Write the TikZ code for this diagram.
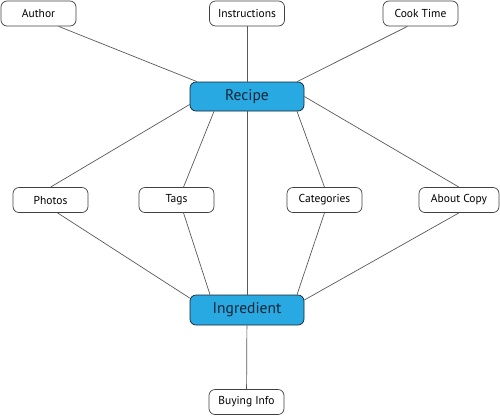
\documentclass[tikz,border=0pt]{standalone}
\usepackage{fontspec}
\setmainfont{PT Sans}
\definecolor{hubblue}{RGB}{41,169,225}
\definecolor{hubtext}{RGB}{22,36,52}
\begin{document}
\begin{tikzpicture}[x=1pt,y=-1pt,
        item/.style={draw=black!75,line width=0.7pt,rounded corners=6pt,inner sep=0pt,
            minimum width=75pt,minimum height=25pt,font=\fontsize{11.5}{13}\selectfont},
        hub/.style={draw=hubtext,fill=hubblue,line width=0.7pt,rounded corners=6pt,inner sep=0pt,
            minimum width=114pt,minimum height=29pt,text=hubtext,font=\fontsize{15.5}{18}\selectfont},
        link/.style={draw=black!65,line width=0.7pt}]
            \useasboundingbox (0,0) rectangle (500,416);
            \node[hub] (recipe) at (247,96.5) {Recipe};
            \node[hub,minimum height=30pt] (ingredient) at (247,310) {Ingredient};
            \node[item] (author) at (38.5,13.5) {Author};
            \node[item] (instructions) at (247,13.5) {Instructions};
            \node[item] (cooktime) at (420.5,13.5) {Cook Time};
            \node[item] (photos) at (50.5,200) {Photos};
            \node[item] (tags) at (176.5,200) {Tags};
            \node[item] (categories) at (324.5,200) {Categories};
            \node[item,minimum width=80pt] (aboutcopy) at (459,200) {About Copy};
            \node[item] (buyinginfo) at (246.5,402) {Buying Info};
            \draw[link] ([xshift=20pt]author.south) -- ([xshift=-50pt]recipe.north);
            \draw[link] (instructions) -- (recipe);
            \draw[link] ([xshift=-13pt]cooktime.south) -- ([xshift=50pt]recipe.north);
            \draw[link] ([yshift=-8pt]recipe.west) -- (photos.north);
            \draw[link] ([xshift=-33pt]recipe.south) -- ([xshift=7pt]tags.north);
            \draw[link] ([xshift=50pt]recipe.south) -- (categories.north);
            \draw[link] (recipe.east) -- (aboutcopy.north);
            \draw[link] (recipe) -- (ingredient);
            \draw[link] ([xshift=7pt]photos.south) -- ([yshift=12pt]ingredient.west);
            \draw[link] ([xshift=7pt]tags.south) -- ([xshift=-37pt]ingredient.north);
            \draw[link] (categories.south) -- ([xshift=50pt]ingredient.north);
            \draw[link] (aboutcopy.south) -- ([yshift=10pt]ingredient.east);
            \draw[link] (ingredient) -- (buyinginfo);
        \end{tikzpicture}
\end{document}
